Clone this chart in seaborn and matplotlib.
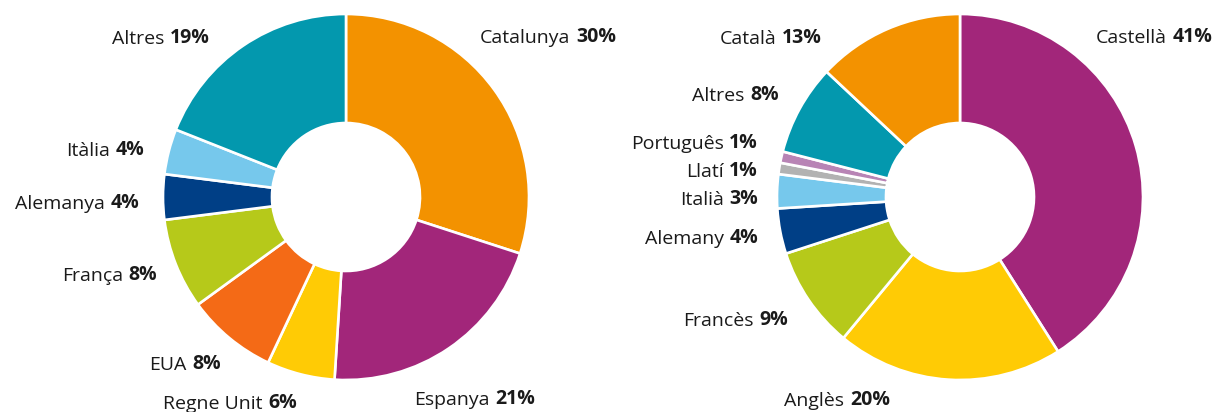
import matplotlib
matplotlib.use('Agg')
import matplotlib.pyplot as plt
import seaborn as sns

# left donut: origin of the people
origen = ['Catalunya', 'Espanya', 'Regne Unit', 'EUA', 'França', 'Alemanya', 'Itàlia', 'Altres']
origen_pct = [30, 21, 6, 8, 8, 4, 4, 19]
origen_colors = ['#F39200', '#A2267A', '#FFCB05', '#F46A16', '#B6C91A', '#003F86', '#76C8EC', '#0398AE']

# right donut: languages
llengua = ['Castellà', 'Anglès', 'Francès', 'Alemany', 'Italià', 'Llatí', 'Português', 'Altres', 'Català']
llengua_pct = [41, 20, 9, 4, 3, 1, 1, 8, 13]
llengua_colors = ['#A2267A', '#FFCB05', '#B6C91A', '#003F86', '#76C8EC', '#B2B2B2', '#B884B5', '#0398AE', '#F39200']

# label anchors in pixels from the top-left: (x, y, side)
# side 'r' -> label ends at x, side 'l' -> label starts at x
origen_lbl = [(480, 38, 'l'), (414, 400, 'l'), (297, 403, 'r'), (221, 364, 'r'),
              (157, 275, 'r'), (139, 203, 'r'), (144, 150, 'r'), (210, 38, 'r')]
llengua_lbl = [(1096, 38, 'l'), (890, 400, 'r'), (788, 320, 'r'), (758, 238, 'r'),
               (758, 199, 'r'), (758, 171, 'r'), (758, 143, 'r'), (779, 95, 'r'), (822, 38, 'r')]

W, H = 1222, 412
FS = 14
GAP = 4
sns.set_theme(style='white')
plt.rcParams['font.family'] = ['Open Sans', 'DejaVu Sans']

fig = plt.figure(figsize=(W / 100, H / 100), dpi=100)
ax = fig.add_axes([0, 0, 1, 1])

R = 183
hole = 74


def donut(cx, cy, vals, colors, names, lbls):
    ax.pie(vals, colors=colors, startangle=90, counterclock=False,
           center=(cx, H - cy), radius=R,
           wedgeprops=dict(width=R - hole, edgecolor='white', linewidth=1.9))
    for name, v, (x, y, side) in zip(names, vals, lbls):
        if side == 'l':
            t = ax.text(x, H - y, name, ha='left', va='center', fontsize=FS, color='#1a1a1a')
            ax.annotate(f'{v}%', xy=(1, 0), xycoords=t, xytext=(GAP, 0), textcoords='offset points',
                        ha='left', va='bottom', fontsize=FS, fontweight='bold', color='#1a1a1a')
        else:
            t = ax.text(x, H - y, f'{v}%', ha='right', va='center', fontsize=FS,
                        fontweight='bold', color='#1a1a1a')
            ax.annotate(name, xy=(0, 0), xycoords=t, xytext=(-GAP, 0), textcoords='offset points',
                        ha='right', va='bottom', fontsize=FS, color='#1a1a1a')


donut(346, 197, origen_pct, origen_colors, origen, origen_lbl)
donut(960, 197, llengua_pct, llengua_colors, llengua, llengua_lbl)

ax.set_xlim(0, W)
ax.set_ylim(0, H)
ax.set_aspect('equal')
ax.axis('off')

fig.savefig('out.png', dpi=100)
